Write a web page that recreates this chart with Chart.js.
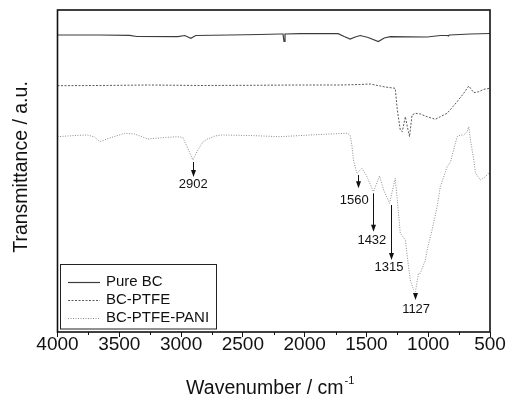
<!DOCTYPE html>
<html>
<head>
<meta charset="utf-8">
<script src="https://cdn.jsdelivr.net/npm/chart.js@4.4.1/dist/chart.umd.min.js"></script>
<style>
html,body{margin:0;padding:0;background:#fff;}
canvas{display:block;}
</style>
</head>
<body>
<canvas id="c" width="507" height="396"></canvas>
<script>
// ---- data (wavenumber in cm-1, transmittance in arbitrary units) ----
const seriesNames = ['Pure BC', 'BC-PTFE', 'BC-PTFE-PANI'];
const xTicks = [4000, 3500, 3000, 2500, 2000, 1500, 1000, 500];

const pureBC = [
  [4000,297],[3659,297],[3416,296.7],[3359,295.5],[3027,295.3],[2970,296.5],[2921,293.7],[2881,296.5],
  [2605,297],[2362,297.5],[2199,298],[2175,298],[2167,290.5],[2159,298],[2037,298.3],[1729,298.3],
  [1680,295.5],[1632,293],[1591,295],[1550,296.5],[1486,294.5],[1404,290.5],[1356,294],[1307,295.3],
  [1007,295],[902,296.5],[845,296.5],[837,296],[829,297],[658,298],[500,298.5]
];

const bcPTFE = [
  [4000,246.3],[3659,246.5],[3254,247],[2848,246.5],[2443,246.7],[2037,247],[1713,247],[1550,247.5],
  [1469,248],[1388,246],[1348,245],[1267,243.7],[1250,222],[1226,202],[1210,200.3],[1185,215.3],
  [1169,205.3],[1151,195.3],[1131,217],[1104,218.7],[1064,218],[1009,215.3],[942,212.7],[902,215.3],
  [847,218.7],[766,230.3],[713,238.7],[672,246],[631,239.3],[591,240.3],[550,242.7],[500,243.7]
];

const bcPTFEPANI = [
  [4000,195.3],[3862,196.5],[3757,197],[3700,195],[3659,190.3],[3578,194],[3457,198.7],[3375,198],
  [3270,193],[3132,194.5],[3027,195.3],[2986,194.5],[2946,184],[2905,172],[2864,182],[2824,190],
  [2791,192.7],[2727,196],[2670,197],[2443,196.5],[2199,195.3],[1956,197],[1794,198],[1658,198.7],
  [1632,197],[1618,187],[1605,172],[1577,158.7],[1537,163.7],[1502,157],[1443,140.3],[1394,156],
  [1361,142],[1313,128.7],[1267,153.7],[1250,132],[1226,98.7],[1185,92],[1161,67],[1145,52],
  [1118,42],[1104,40.3],[1078,58.7],[1064,58.7],[1023,72],[1009,82],[969,102],[928,125.3],
  [902,145.3],[847,165.3],[820,170],[766,195.3],[739,197],[713,197],[685,200.3],[672,205.3],
  [658,192],[631,172],[618,159],[577,152],[537,155.3],[510,159],[500,157]
];

// peak annotations
const annLabels  = ['2902', '1560', '1432', '1315', '1127'];
const annArrowX  = [2907, 1569, 1443, 1299, 1104];
const annTailY   = [170, 157, 138.7, 127, 38.7];
const annTipY    = [155, 143.7, 100.3, 72, 32];
const annLabelX  = [2902, 1599, 1456, 1318, 1098];
const annLabelY  = [148, 132, 92, 64.3, 23];

// ---- chart ----
const FONT = "'Liberation Sans', Arial, sans-serif";
const toXY = a => a.map(p => ({x: p[0], y: p[1]}));

const styles = [
  {color: '#3c3c3c', width: 1.2, dash: []},
  {color: '#5a5a5a', width: 1, dash: [2, 1.5]},
  {color: '#8c8c8c', width: 1, dash: [1, 1.5]}
];
const allData = [pureBC, bcPTFE, bcPTFEPANI];

const decor = {
  id: 'decor',
  afterDraw(chart) {
    const ctx = chart.ctx;
    const xs = chart.scales.x, ys = chart.scales.y;
    const a = chart.chartArea;
    ctx.save();
    // frame
    ctx.strokeStyle = '#111';
    ctx.lineWidth = 1.6;
    ctx.setLineDash([]);
    ctx.strokeRect(a.left, a.top, a.right - a.left, a.bottom - a.top);
    // minor ticks
    ctx.lineWidth = 1;
    for (let v = 750; v < 4000; v += 500) {
      const px = Math.round(xs.getPixelForValue(v)) + 0.5;
      ctx.beginPath();
      ctx.moveTo(px, a.bottom);
      ctx.lineTo(px, a.bottom + 3);
      ctx.stroke();
    }
    // annotations
    ctx.fillStyle = '#111';
    ctx.strokeStyle = '#111';
    ctx.font = '13px ' + FONT;
    ctx.textAlign = 'center';
    ctx.textBaseline = 'middle';
    for (let i = 0; i < annLabels.length; i++) {
      const x = Math.round(xs.getPixelForValue(annArrowX[i])) + 0.5;
      const y0 = ys.getPixelForValue(annTailY[i]);
      const y1 = ys.getPixelForValue(annTipY[i]);
      ctx.beginPath();
      ctx.moveTo(x, y0);
      ctx.lineTo(x, y1 - 6);
      ctx.stroke();
      ctx.beginPath();
      ctx.moveTo(x - 2.5, y1 - 7);
      ctx.lineTo(x + 2.5, y1 - 7);
      ctx.lineTo(x, y1);
      ctx.closePath();
      ctx.fill();
      ctx.fillText(annLabels[i], xs.getPixelForValue(annLabelX[i]), ys.getPixelForValue(annLabelY[i]));
    }
    // legend
    const lx = a.left + 2.5, ly = 264, lw = 156, lh = 64.5;
    ctx.lineWidth = 1;
    ctx.strokeStyle = '#222';
    ctx.strokeRect(lx + 0.5, ly + 0.5, lw, lh);
    ctx.font = '15px ' + FONT;
    ctx.textAlign = 'left';
    ctx.textBaseline = 'middle';
    for (let i = 0; i < seriesNames.length; i++) {
      const yy = 282 + i * 18;
      ctx.strokeStyle = styles[i].color;
      ctx.lineWidth = styles[i].width;
      ctx.setLineDash(styles[i].dash);
      ctx.beginPath();
      ctx.moveTo(68, yy + 0.5);
      ctx.lineTo(100, yy + 0.5);
      ctx.stroke();
      ctx.setLineDash([]);
      ctx.fillStyle = '#111';
      ctx.fillText(seriesNames[i], 106, yy);
    }
    // axis titles
    ctx.fillStyle = '#111';
    ctx.textBaseline = 'alphabetic';
    const t1 = 'Wavenumber / cm';
    ctx.font = '19.5px ' + FONT;
    const w1 = ctx.measureText(t1).width;
    ctx.font = '11px ' + FONT;
    const w2 = ctx.measureText('-1').width;
    const cx = (a.left + a.right) / 2 - 4;
    const sx = cx - (w1 + w2) / 2;
    ctx.font = '19.5px ' + FONT;
    ctx.textAlign = 'left';
    ctx.fillText(t1, sx, 394);
    ctx.font = '11px ' + FONT;
    ctx.fillText('-1', sx + w1 + 1, 384);
    ctx.save();
    ctx.translate(27, (a.top + a.bottom) / 2 - 4);
    ctx.rotate(-Math.PI / 2);
    ctx.font = '19.5px ' + FONT;
    ctx.textAlign = 'center';
    ctx.fillText('Transmittance / a.u.', 0, 0);
    ctx.restore();
    ctx.restore();
  }
};

new Chart(document.getElementById('c'), {
  type: 'line',
  data: {
    datasets: allData.map((d, i) => ({
      label: seriesNames[i],
      data: toXY(d),
      borderColor: styles[i].color,
      borderWidth: styles[i].width,
      borderDash: styles[i].dash,
      pointRadius: 0,
      tension: 0,
      fill: false
    }))
  },
  options: {
    responsive: false,
    animation: false,
    events: [],
    layout: {padding: {left: 57.5, right: 17, top: 10, bottom: 0}},
    plugins: {legend: {display: false}, tooltip: {enabled: false}},
    scales: {
      x: {
        type: 'linear',
        reverse: true,
        min: 500,
        max: 4000,
        afterBuildTicks: s => { s.ticks = xTicks.map(v => ({value: v})); },
        afterFit: s => { s.height = 64; },
        ticks: {
          color: '#111',
          font: {family: FONT, size: 19},
          padding: -4,
          maxRotation: 0,
          autoSkip: false,
          callback: v => String(v)
        },
        grid: {display: true, drawOnChartArea: false, drawTicks: true, tickLength: 5, color: '#111', lineWidth: 1},
        border: {display: false}
      },
      y: {
        display: false,
        min: 0,
        max: 322
      }
    }
  },
  plugins: [decor]
});
</script>
</body>
</html>
